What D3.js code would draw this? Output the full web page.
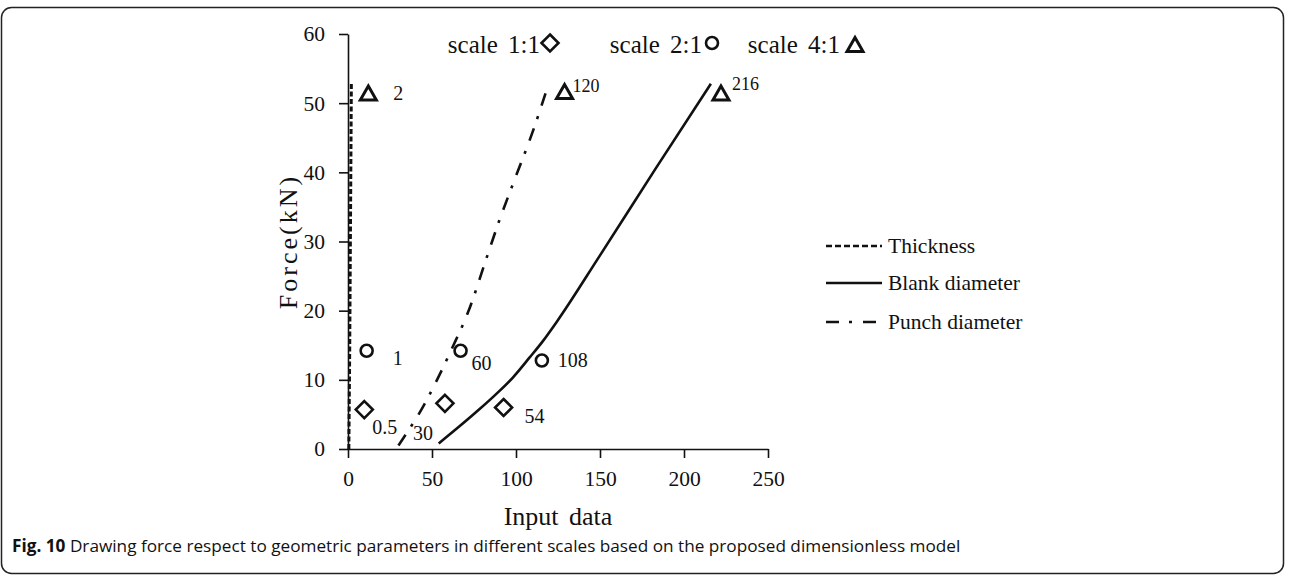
<!DOCTYPE html>
<html>
<head>
<meta charset="utf-8">
<script src="https://cdn.jsdelivr.net/npm/d3@7"></script>
<style>
  html, body { margin: 0; padding: 0; background: #fff; }
  svg text { font-family: "Liberation Serif", "Times New Roman", serif; fill: #111; }
  .caption { font-family: "Open Sans", sans-serif; }
</style>
</head>
<body>
<div id="chart"></div>
<script>
// values
const thicknessX = [0.5, 1, 2];
const thicknessY = [0, 14, 53];

const blankX = [54, 66, 78, 88, 98, 108, 116, 124, 150, 183, 216];
const blankY = [0.8, 3.2, 5.7, 7.9, 10.3, 13.2, 15.6, 18.3, 28, 40.5, 52.8];

const punchX = [30, 36, 43, 53, 62, 71.5, 83, 90, 98, 111, 119];
const punchY = [0.5, 2.7, 5.4, 10, 14.6, 19.8, 28, 33, 38.2, 46.6, 52.5];

const diamondX = [9.7, 57.7, 92.6];
const diamondY = [5.7, 6.6, 6.0];
const diamondLabels = ['0.5', '30', '54'];

const circleX = [11.1, 67, 115.4];
const circleY = [14.2, 14.2, 12.8];
const circleLabels = ['1', '60', '108'];

const triangleX = [12.1, 128.9, 222];
const triangleY = [51.4, 51.6, 51.4];
const triangleLabels = ['2', '120', '216'];

const xTicks = [0, 50, 100, 150, 200, 250];
const yTicks = [0, 10, 20, 30, 40, 50, 60];
const scaleNames = ['scale 1:1', 'scale 2:1', 'scale 4:1'];
const seriesNames = ['Thickness', 'Blank diameter', 'Punch diameter'];

const width = 1289;
const height = 576;
const plot = { left: 348, right: 768, top: 34, bottom: 449 };

const svg = d3.select('#chart')
  .append('svg')
  .attr('width', width)
  .attr('height', height);

// frame
svg.append('rect')
  .attr('x', 1.5).attr('y', 7.5)
  .attr('width', 1282).attr('height', 566)
  .attr('rx', 10)
  .attr('fill', 'none')
  .attr('stroke', '#222')
  .attr('stroke-width', 1.5);

const x = d3.scaleLinear().domain([0, 250]).range([plot.left, plot.right]);
const y = d3.scaleLinear().domain([0, 60]).range([plot.bottom, plot.top]);

const xAxis = d3.axisBottom(x).tickValues(xTicks).tickSize(9).tickSizeOuter(0).tickPadding(13);
const yAxis = d3.axisLeft(y).tickValues(yTicks).tickSize(9).tickSizeOuter(0).tickPadding(14);

const gx = svg.append('g')
  .attr('transform', `translate(0,${plot.bottom})`)
  .call(xAxis);
const gy = svg.append('g')
  .attr('transform', `translate(${plot.left},0)`)
  .call(yAxis);

[gx, gy].forEach((g) => {
  g.select('.domain').attr('stroke', '#111').attr('stroke-width', 1.6);
  g.selectAll('.tick line').attr('stroke', '#111').attr('stroke-width', 1.6);
  g.selectAll('.tick text')
    .attr('fill', '#111')
    .style('font-family', '"Liberation Serif", serif')
    .style('font-size', '21.5px');
});

// axis titles
svg.append('text')
  .attr('x', (plot.left + plot.right) / 2)
  .attr('y', 525)
  .attr('text-anchor', 'middle')
  .style('font-size', '26px')
  .style('word-spacing', '4px')
  .text('Input data');

svg.append('text')
  .attr('transform', `translate(297,${(plot.top + plot.bottom) / 2}) rotate(-90)`)
  .attr('text-anchor', 'middle')
  .style('font-size', '26px')
  .style('letter-spacing', '3px')
  .text('Force(kN)');

// lines
const zip = (xs, ys) => xs.map((v, i) => ({ x: v, y: ys[i] }));
const line = d3.line().x((d) => x(d.x)).y((d) => y(d.y));
const smooth = d3.line().x((d) => x(d.x)).y((d) => y(d.y)).curve(d3.curveMonotoneX);

const styles = [
  { dash: '5,2.5', w: 3 },
  { dash: null, w: 2.6 },
  { dash: '13,10,3,11', w: 2.6 }
];

svg.append('path')
  .datum(zip(thicknessX, thicknessY))
  .attr('fill', 'none')
  .attr('stroke', '#111')
  .attr('stroke-width', styles[0].w)
  .attr('stroke-dasharray', styles[0].dash)
  .attr('d', line);

svg.append('path')
  .datum(zip(blankX, blankY))
  .attr('fill', 'none')
  .attr('stroke', '#111')
  .attr('stroke-width', styles[1].w)
  .attr('d', smooth);

svg.append('path')
  .datum(zip(punchX, punchY))
  .attr('fill', 'none')
  .attr('stroke', '#111')
  .attr('stroke-width', styles[2].w)
  .attr('stroke-dasharray', styles[2].dash)
  .attr('d', smooth);

// marker shapes
const diamondPath = 'M0,-8.5L8.5,0L0,8.5L-8.5,0Z';
const trianglePath = 'M0,-7.5L8,6.5L-8,6.5Z';

const drawDiamond = (g, cx, cy) => g.append('path')
  .attr('d', diamondPath)
  .attr('transform', `translate(${cx},${cy})`)
  .attr('fill', 'none').attr('stroke', '#111').attr('stroke-width', 2.6)
  .attr('stroke-linejoin', 'miter');
const drawCircle = (g, cx, cy) => g.append('circle')
  .attr('cx', cx).attr('cy', cy).attr('r', 6)
  .attr('fill', 'none').attr('stroke', '#111').attr('stroke-width', 2.6);
const drawTriangle = (g, cx, cy) => g.append('path')
  .attr('d', trianglePath)
  .attr('transform', `translate(${cx},${cy})`)
  .attr('fill', 'none').attr('stroke', '#111').attr('stroke-width', 3)
  .attr('stroke-linejoin', 'miter');

const markers = svg.append('g');
const labelOffsets = {
  diamond: [[8, 24], [-32, 37], [21, 15]],
  circle: [[26, 14], [11, 19], [16, 7]],
  triangle: [[25, 7], [8, 0], [11, -3]]
};

const addLabel = (px, py, off, text, size) => {
  svg.append('text')
    .attr('x', px + off[0])
    .attr('y', py + off[1])
    .style('font-size', size)
    .text(text);
};

diamondX.forEach((v, i) => {
  const px = x(v), py = y(diamondY[i]);
  drawDiamond(markers, px, py);
  addLabel(px, py, labelOffsets.diamond[i], diamondLabels[i], '20px');
});
circleX.forEach((v, i) => {
  const px = x(v), py = y(circleY[i]);
  drawCircle(markers, px, py);
  addLabel(px, py, labelOffsets.circle[i], circleLabels[i], '20px');
});
triangleX.forEach((v, i) => {
  const px = x(v), py = y(triangleY[i]);
  drawTriangle(markers, px, py);
  addLabel(px, py, labelOffsets.triangle[i], triangleLabels[i], i === 0 ? '20px' : '18px');
});

// top legend: scales
const scaleEnds = [540, 702, 840];
const scaleGlyphs = [drawDiamond, drawCircle, drawTriangle];
const scaleGlyphX = [550, 712, 855];
scaleNames.forEach((name, i) => {
  svg.append('text')
    .attr('x', scaleEnds[i])
    .attr('y', 53)
    .attr('text-anchor', 'end')
    .style('font-size', '25px')
    .style('word-spacing', '4px')
    .text(name);
  scaleGlyphs[i](svg, scaleGlyphX[i], i === 2 ? 45 : 43);
});

// right legend: series
const legendY = [246, 283, 322];
seriesNames.forEach((name, i) => {
  svg.append('line')
    .attr('x1', 826).attr('x2', 882)
    .attr('y1', legendY[i]).attr('y2', legendY[i])
    .attr('stroke', '#111')
    .attr('stroke-width', i === 0 ? 2.4 : 2.6)
    .attr('stroke-dasharray', i === 0 ? '6,3' : (i === 2 ? '13,10,3,11' : null));
  svg.append('text')
    .attr('x', 888)
    .attr('y', legendY[i] + 7)
    .style('font-size', '21.5px')
    .text(name);
});

// caption
const cap = svg.append('text')
  .attr('class', 'caption')
  .attr('x', 12)
  .attr('y', 552)
  .style('font-size', '17.2px');
cap.append('tspan').style('font-weight', 'bold').text('Fig. 10');
cap.append('tspan').text(' Drawing force respect to geometric parameters in different scales based on the proposed dimensionless model');
</script>
</body>
</html>
